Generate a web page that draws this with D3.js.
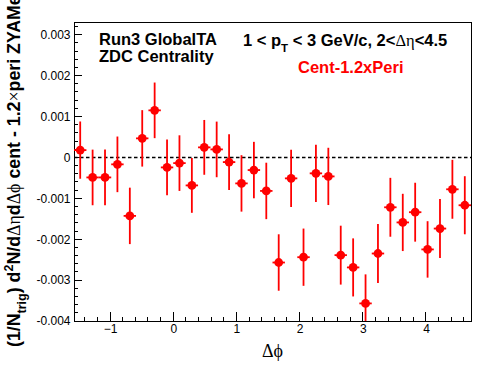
<!DOCTYPE html>
<html>
<head>
<meta charset="utf-8">
<script src="https://cdn.jsdelivr.net/npm/d3@7"></script>
<style>
  html, body { margin: 0; padding: 0; background: #fff; }
  svg { display: block; }
</style>
</head>
<body>
<div id="chart"></div>
<script>
// ---- data ----
const dphi = [-1.4726, -1.2763, -1.0799, -0.8836, -0.6872, -0.4909, -0.2945, -0.0982,
               0.0982,  0.2945,  0.4909,  0.6872,  0.8836,  1.0799,  1.2763,  1.4726,
               1.6690,  1.8653,  2.0617,  2.2580,  2.4544,  2.6507,  2.8471,  3.0434,
               3.2398,  3.4361,  3.6325,  3.8288,  4.0252,  4.2215,  4.4179,  4.6142];
const binHalfWidth = 0.0982;
const values = [ 0.000178, -0.00049, -0.00049, -0.00017, -0.00143,  0.000465,  0.00115, -0.000245,
                -0.00014, -0.000685,  0.000245,  0.000195, -0.000115, -0.000636, -0.00031, -0.00082,
                -0.00257, -0.000513, -0.00244, -0.00039, -0.000465, -0.00239, -0.00269, -0.00357,
                -0.00235, -0.00122, -0.00159, -0.00134, -0.00225, -0.00174, -0.00078, -0.00117];
const errors = [0.00070, 0.00068, 0.00068, 0.00068, 0.00069, 0.00069, 0.00068, 0.00068,
                0.00068, 0.00067, 0.00067, 0.00068, 0.00068, 0.00069, 0.00069, 0.00069,
                0.00069, 0.00070, 0.00070, 0.00070, 0.00070, 0.00072, 0.00071, 0.00071,
                0.00072, 0.00072, 0.00070, 0.00072, 0.00069, 0.00072, 0.00072, 0.00071];
const xTicks = [-1, 0, 1, 2, 3, 4];
const yTicks = [-0.004, -0.003, -0.002, -0.001, 0, 0.001, 0.002, 0.003];
const yTickLabels = ["-0.004", "-0.003", "-0.002", "-0.001", "0", "0.001", "0.002", "0.003"];
const xDomain = [-Math.PI / 2, 3 * Math.PI / 2];
const yDomain = [-0.004, 0.00331];

// ---- layout ----
const W = 496, H = 374;
const L = 74, R = 471, T = 22, B = 321;
const svg = d3.select("#chart").append("svg").attr("width", W).attr("height", H);

const x = d3.scaleLinear().domain(xDomain).range([L, R]);
const y = d3.scaleLinear().domain(yDomain).range([B, T]);

svg.append("defs").append("clipPath").attr("id", "clip")
  .append("rect").attr("x", L).attr("y", T).attr("width", R - L).attr("height", B - T);

// minor ticks
const xMinor = d3.range(-7, 24).map(k => k * 0.2).filter(v => v >= xDomain[0] && v <= xDomain[1]);
const yMinor = d3.range(-20, 17).map(k => k * 0.0002).filter(v => v >= yDomain[0] - 1e-9 && v <= yDomain[1]);

const xAxis = d3.axisBottom(x).tickValues(xTicks).tickSize(0).tickFormat(d3.format("d"));
const gx = svg.append("g").attr("transform", `translate(0,${B})`).call(xAxis);
gx.select(".domain").remove();
gx.selectAll("text").attr("font-family", "Liberation Sans, Arial, sans-serif").attr("font-size", 12)
  .attr("fill", "#000").attr("dy", 0).attr("y", 12);

const yAxis = d3.axisLeft(y).tickValues(yTicks).tickSize(0)
  .tickFormat((d, i) => yTickLabels[i]);
const gy = svg.append("g").attr("transform", `translate(${L},0)`).call(yAxis);
gy.select(".domain").remove();
gy.selectAll("text").attr("font-family", "Liberation Sans, Arial, sans-serif").attr("font-size", 12)
  .attr("fill", "#000").attr("x", -3.5);

// tick marks (inside frame)
const tg = svg.append("g").attr("stroke", "#000").attr("stroke-width", 1).attr("shape-rendering", "crispEdges");
xMinor.forEach(v => {
  const isMajor = Math.abs(v - Math.round(v)) < 1e-6;
  tg.append("line").attr("x1", x(v)).attr("x2", x(v)).attr("y1", B).attr("y2", B - (isMajor ? 9 : 4.5));
});
yMinor.forEach(v => {
  const isMajor = Math.abs(v / 0.001 - Math.round(v / 0.001)) < 1e-6;
  tg.append("line").attr("x1", L).attr("x2", L + (isMajor ? 8 : 4)).attr("y1", y(v)).attr("y2", y(v));
});

// frame
svg.append("rect").attr("x", L).attr("y", T).attr("width", R - L).attr("height", B - T)
  .attr("fill", "none").attr("stroke", "#000").attr("stroke-width", 1).attr("shape-rendering", "crispEdges");

// zero line
svg.append("line").attr("x1", L).attr("x2", R).attr("y1", y(0)).attr("y2", y(0))
  .attr("stroke", "#000").attr("stroke-width", 1.5).attr("stroke-dasharray", "3.5,2.5");

// data
const pts = dphi.map((d, i) => ({ x: d, v: values[i], e: errors[i] }));
const dg = svg.append("g").attr("clip-path", "url(#clip)");
dg.selectAll("line.ev").data(pts).join("line").attr("class", "ev")
  .attr("x1", d => x(d.x)).attr("x2", d => x(d.x))
  .attr("y1", d => y(d.v - d.e)).attr("y2", d => y(d.v + d.e))
  .attr("stroke", "#ff0000").attr("stroke-width", 1.8);
dg.selectAll("line.eh").data(pts).join("line").attr("class", "eh")
  .attr("x1", d => x(d.x - binHalfWidth)).attr("x2", d => x(d.x + binHalfWidth))
  .attr("y1", d => y(d.v)).attr("y2", d => y(d.v))
  .attr("stroke", "#ff0000").attr("stroke-width", 1.8);
dg.selectAll("circle").data(pts).join("circle")
  .attr("cx", d => x(d.x)).attr("cy", d => y(d.v)).attr("r", 4.4).attr("fill", "#ff0000");

// texts
const sans = "Liberation Sans, Arial, Helvetica, sans-serif";
const serif = "Liberation Serif, Times New Roman, serif";
svg.append("text").attr("x", 99).attr("y", 45).attr("font-family", sans).attr("font-weight", "bold")
  .attr("font-size", 16.5).text("Run3 GlobalTA");
svg.append("text").attr("x", 99).attr("y", 62).attr("font-family", sans).attr("font-weight", "bold")
  .attr("font-size", 16.5).text("ZDC Centrality");

const t2 = svg.append("text").attr("x", 243).attr("y", 46).attr("font-family", sans).attr("font-weight", "bold")
  .attr("font-size", 16.5);
t2.append("tspan").text("1 < p");
t2.append("tspan").attr("dy", 6).attr("font-size", 11.5).text("T");
t2.append("tspan").attr("dy", -6).text(" < 3 GeV/c, 2<");
t2.append("tspan").attr("font-family", serif).attr("font-weight", "normal").text("Δη");
t2.append("tspan").text("<4.5");

svg.append("text").attr("x", 298).attr("y", 73).attr("font-family", sans).attr("font-weight", "bold")
  .attr("font-size", 16.5).attr("fill", "#ff0000").text("Cent-1.2xPeri");

svg.append("text").attr("x", (L + R) / 2).attr("y", 357).attr("text-anchor", "middle")
  .attr("font-family", serif).attr("font-size", 18).text("Δϕ");

const yt = svg.append("text").attr("transform", "translate(19.5,347) rotate(-90)")
  .attr("font-family", sans).attr("font-weight", "bold").attr("font-size", 17.8);
yt.append("tspan").text("(1/N");
yt.append("tspan").attr("dy", 6).attr("font-size", 12.5).text("trig");
yt.append("tspan").attr("dy", -6).text(") d");
yt.append("tspan").attr("dy", -7).attr("font-size", 12.5).text("2");
yt.append("tspan").attr("dy", 7).text("N/d");
yt.append("tspan").attr("font-family", serif).attr("font-weight", "normal").text("Δη");
yt.append("tspan").text("d");
yt.append("tspan").attr("font-family", serif).attr("font-weight", "normal").text("Δϕ");
yt.append("tspan").text(" cent - 1.2");
yt.append("tspan").attr("font-family", serif).attr("font-weight", "normal").text("×");
yt.append("tspan").text("peri ZYAMed");
</script>
</body>
</html>
